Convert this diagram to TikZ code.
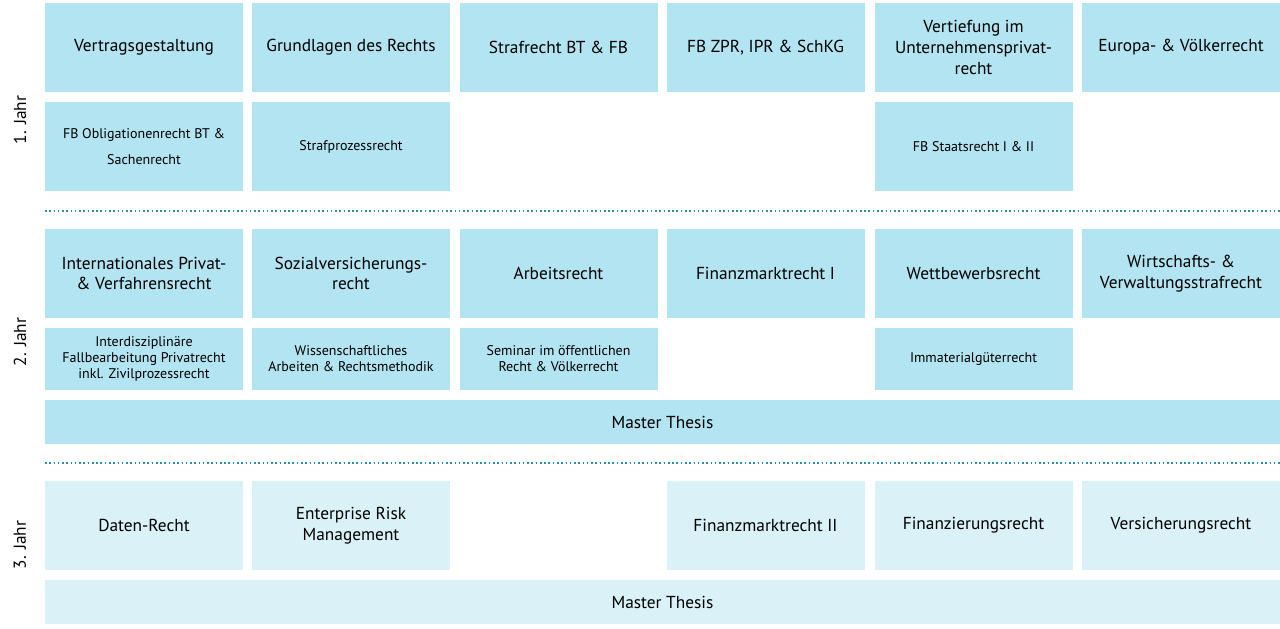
\documentclass[tikz,border=0pt]{standalone}
\usepackage{fontspec}
\setmainfont{PT Sans}
\definecolor{boxdark}{HTML}{B2E4F1}
\definecolor{boxlight}{HTML}{D9F1F7}
\definecolor{sepline}{HTML}{2B8FA3}
\begin{document}
\begin{tikzpicture}[x=0.75pt,y=-0.75pt]
\tikzset{
	kurs/.style	= {shape=rectangle, fill=boxdark, minimum width=148.5pt, minimum height=66.75pt, inner sep=2pt, align=center, font=\fontsize{13}{15.5}\selectfont},
	klein/.style	= {kurs, font=\fontsize{10.5}{12.5}\selectfont},
	flach/.style	= {kurs, minimum height=46.5pt, font=\fontsize{10.5}{12}\selectfont},
	thesis/.style	= {kurs, minimum width=926.25pt, minimum height=33pt},
	hell/.style	= {fill=boxlight},
	jahr/.style	= {rotate=90, font=\fontsize{13}{15}\selectfont},
	trenner/.style	= {sepline, line width=1.2pt, dotted}
}
\useasboundingbox (0,0) rectangle (1280,628);
% 1. Jahr
\node (vg) [kurs] at (144,47.5) {Vertragsgestaltung};
\node (gr) [kurs] at (351,47.5) {Grundlagen des Rechts};
\node (sr) [kurs] at (558.5,47.5) {Strafrecht BT \& FB};
\node (zpr) [kurs] at (765.5,47.5) {FB ZPR, IPR \& SchKG};
\node (vu) [kurs] at (973.5,47.5) {Vertiefung im\\Unternehmensprivat-\\recht};
\node (ev) [kurs] at (1181,47.5) {Europa- \& Völkerrecht};
\node (or) [klein, font=\fontsize{10.5}{19}\selectfont] at (144,146.5) {FB Obligationenrecht BT \&\\Sachenrecht};
\node (sp) [klein] at (351,146.5) {Strafprozessrecht};
\node (st) [klein] at (973.5,146.5) {FB Staatsrecht I \& II};
\node (j1) [jahr] at (20,120) {1. Jahr};
\coordinate (l1a) at (45,211);
\coordinate (l1b) at (1280,211);
\draw [trenner] (l1a) -- (l1b);
% 2. Jahr
\node (ip) [kurs] at (144,273.5) {Internationales Privat-\\\& Verfahrensrecht};
\node (sv) [kurs] at (351,273.5) {Sozialversicherungs-\\recht};
\node (ar) [kurs] at (558.5,273.5) {Arbeitsrecht};
\node (fm) [kurs] at (765.5,273.5) {Finanzmarktrecht I};
\node (wb) [kurs] at (973.5,273.5) {Wettbewerbsrecht};
\node (ws) [kurs] at (1181,273.5) {Wirtschafts- \&\\Verwaltungsstrafrecht};
\node (if) [flach] at (144,359) {Interdisziplinäre\\Fallbearbeitung Privatrecht\\inkl. Zivilprozessrecht};
\node (wa) [flach] at (351,359) {Wissenschaftliches\\Arbeiten \& Rechtsmethodik};
\node (se) [flach] at (558.5,359) {Seminar im öffentlichen\\Recht \& Völkerrecht};
\node (im) [flach] at (973.5,359) {Immaterialgüterrecht};
\node (mt2) [thesis] at (662.5,422) {Master Thesis};
\node (j2) [jahr] at (20,342) {2. Jahr};
\coordinate (l2a) at (45,463);
\coordinate (l2b) at (1280,463);
\draw [trenner] (l2a) -- (l2b);
% 3. Jahr
\node (dr) [kurs, hell] at (144,525.5) {Daten-Recht};
\node (er) [kurs, hell] at (351,525.5) {Enterprise Risk\\Management};
\node (fm2) [kurs, hell] at (765.5,525.5) {Finanzmarktrecht II};
\node (fi) [kurs, hell] at (973.5,525.5) {Finanzierungsrecht};
\node (vr) [kurs, hell] at (1181,525.5) {Versicherungsrecht};
\node (mt3) [thesis, hell] at (662.5,602) {Master Thesis};
\node (j3) [jahr] at (20,545) {3. Jahr};
\end{tikzpicture}
\end{document}
